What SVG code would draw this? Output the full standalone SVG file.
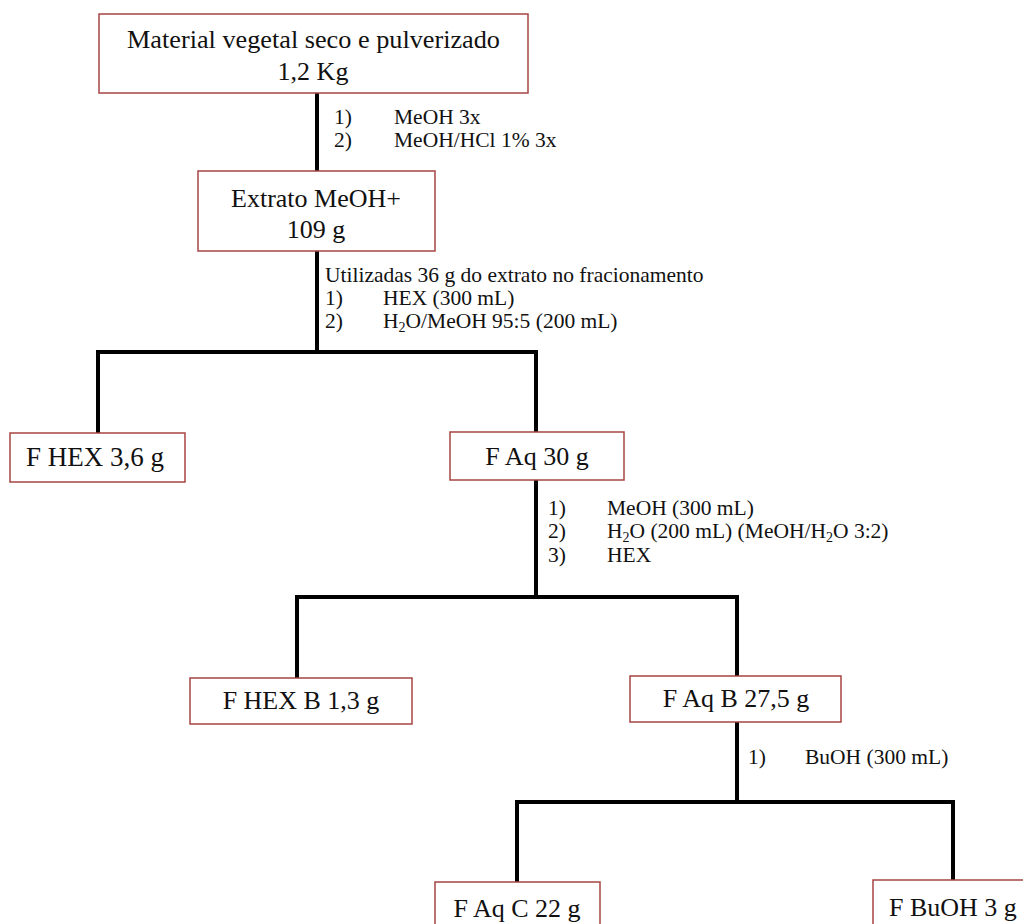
<svg xmlns="http://www.w3.org/2000/svg" width="1023" height="924" viewBox="0 0 1023 924">
<style>
.box{fill:#fff;stroke:#a84444;stroke-width:1.5}
.big{font-family:"Liberation Serif",serif;font-size:26px;fill:#111}
.sm{font-family:"Liberation Serif",serif;font-size:21.5px;fill:#111}
.sub{font-size:14px}
.ln{fill:none;stroke:#000;stroke-width:4}
</style>
<rect width="1023" height="924" fill="#fff"/>
<g id="connectors">
<path class="ln" d="M317,93 V172"/>
<path class="ln" d="M317,251 V352 M98,433 V352 H536 V432"/>
<path class="ln" d="M536,480 V597 M297,679 V597 H737 V676"/>
<path class="ln" d="M737,722 V802 M517,882 V802 H953 V880"/>
<g class="sm">
<text x="334" y="124">1)</text><text x="394" y="124">MeOH 3x</text>
<text x="334" y="147">2)</text><text x="394" y="147">MeOH/HCl 1% 3x</text>
<text x="325" y="282">Utilizadas 36 g do extrato no fracionamento</text>
<text x="325" y="305">1)</text><text x="383" y="305">HEX (300 mL)</text>
<text x="325" y="328">2)</text><text x="383" y="328">H<tspan class="sub" dy="4">2</tspan><tspan dy="-4">O/MeOH 95:5 (200 mL)</tspan></text>
<text x="548" y="515">1)</text><text x="607" y="515">MeOH (300 mL)</text>
<text x="548" y="538">2)</text><text x="607" y="538">H<tspan class="sub" dy="4">2</tspan><tspan dy="-4">O (200 mL) (MeOH/H</tspan><tspan class="sub" dy="4">2</tspan><tspan dy="-4">O 3:2)</tspan></text>
<text x="548" y="562">3)</text><text x="607" y="562">HEX</text>
<text x="748" y="764">1)</text><text x="805" y="764">BuOH (300 mL)</text>
</g>
</g>
<g id="n1"><rect class="box" x="99" y="14" width="429" height="79"/>
<text class="big" x="127" y="48" textLength="373" lengthAdjust="spacingAndGlyphs">Material vegetal seco e pulverizado</text>
<text class="big" x="313" y="80" text-anchor="middle">1,2 Kg</text></g>
<g id="n2"><rect class="box" x="198" y="171" width="237" height="80"/>
<text class="big" x="316" y="207" text-anchor="middle">Extrato MeOH+</text>
<text class="big" x="316" y="238" text-anchor="middle">109 g</text></g>
<g id="n3"><rect class="box" x="10" y="433" width="175" height="49"/>
<text class="big" x="95" y="466" text-anchor="middle" style="font-size:27px">F HEX 3,6 g</text></g>
<g id="n4"><rect class="box" x="450" y="432" width="174" height="48"/>
<text class="big" x="537" y="465" text-anchor="middle">F Aq 30 g</text></g>
<g id="n5"><rect class="box" x="190" y="678" width="222" height="46"/>
<text class="big" x="301" y="709" text-anchor="middle">F HEX B 1,3 g</text></g>
<g id="n6"><rect class="box" x="630" y="676" width="211" height="46"/>
<text class="big" x="736" y="707" text-anchor="middle">F Aq B 27,5 g</text></g>
<g id="n7"><rect class="box" x="435" y="882" width="165" height="50"/>
<text class="big" x="517" y="917" text-anchor="middle">F Aq C 22 g</text></g>
<g id="n8"><rect class="box" x="873" y="880" width="160" height="50"/>
<text class="big" x="889" y="916">F BuOH 3 g</text></g>
</svg>
